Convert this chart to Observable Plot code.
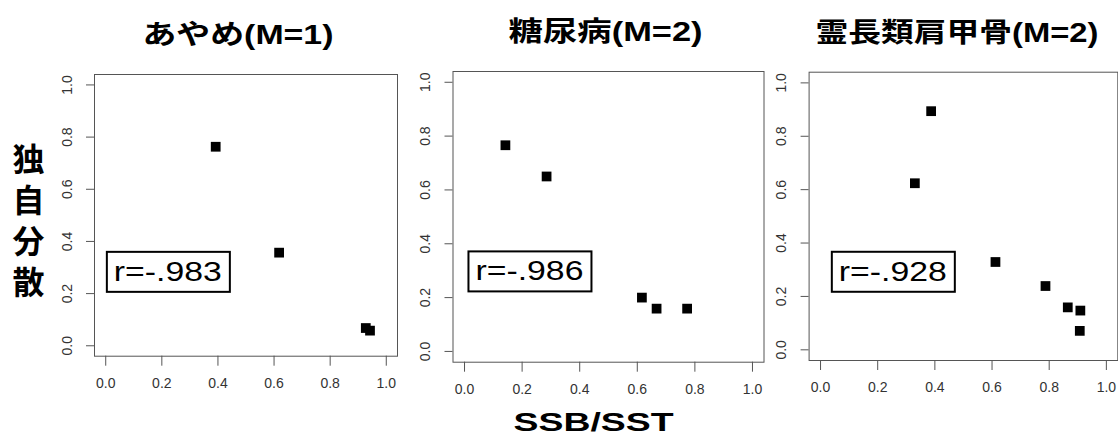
<!DOCTYPE html>
<html><head><meta charset="utf-8">
<script src="https://cdn.jsdelivr.net/npm/d3@7"></script>
<script src="https://cdn.jsdelivr.net/npm/@observablehq/plot@0.6"></script>
<style>
html,body{margin:0;padding:0;background:#fff;}
#root{position:relative;width:1118px;height:439px;overflow:hidden;background:#fff;}
#root svg{position:absolute;top:0;overflow:visible;background:transparent;}
</style></head><body><div id="root"></div>
<script>
// ---- data ----
const titles = ["あやめ(M=1)", "糖尿病(M=2)", "霊長類肩甲骨(M=2)"];
const rLabels = ["r=-.983", "r=-.986", "r=-.928"];
const ssbIris = [0.392, 0.618, 0.927, 0.942];
const varIris = [0.763, 0.357, 0.068, 0.058];
const ssbDiabetes = [0.142, 0.285, 0.616, 0.667, 0.773];
const varDiabetes = [0.766, 0.650, 0.200, 0.159, 0.159];
const ssbScapula = [0.387, 0.330, 0.612, 0.787, 0.865, 0.909, 0.907];
const varScapula = [0.894, 0.624, 0.329, 0.239, 0.159, 0.147, 0.071];
const tickValues = [0, 0.2, 0.4, 0.6, 0.8, 1.0];
const yLabel = "独\n自\n分\n散";
const xLabel = "SSB/SST";

const seriesX = [ssbIris, ssbDiabetes, ssbScapula];
const seriesY = [varIris, varDiabetes, varScapula];

// ---- layout ----
const H = 439;
const FONT = "'Liberation Sans', 'Noto Sans CJK JP', sans-serif";
const layout = [
  {left: 0,   width: 405, fl: 94,    fr: 397,    ft: 74,   fb: 355.7, titleDx: -8,   titleLen: 191, legX: 0.029, legY: 0.282},
  {left: 405, width: 365, fl: 452.5, fr: 763.5,  ft: 71,   fb: 361.7, titleDx: -3,   titleLen: 194, legX: 0.038, legY: 0.296},
  {left: 770, width: 348, fl: 808.6, fr: 1117.3, ft: 71.7, fb: 360,   titleDx: -6.5, titleLen: 283, legX: 0.064, legY: 0.291}
];

const root = document.getElementById("root");
const fmt = d3.format(".1f");

function textsWith(svg, str) {
  return d3.select(svg).selectAll("text").filter(function() { return this.textContent === str; });
}

layout.forEach((L, i) => {
  const pts = seriesX[i].map((x, j) => ({ssb: x, v: seriesY[i][j]}));
  const marks = [
    Plot.frame({stroke: "#555", strokeWidth: 1}),
    Plot.axisX(tickValues, {tickSize: 10, tickPadding: 12, tickFormat: fmt, fontSize: 14, stroke: "#555", fill: "#333", label: null}),
    Plot.axisY(tickValues, {tickSize: 8, tickPadding: 15, tickRotate: -90, tickFormat: fmt, fontSize: 14, stroke: "#555", fill: "#333", label: null}),
    Plot.dot(pts, {x: "ssb", y: "v", symbol: "square", r: 5.5, fill: "black", stroke: null}),
    Plot.text([rLabels[i]], {x: () => L.legX, y: () => L.legY, text: d => d, textAnchor: "start", lineAnchor: "middle", fontSize: 27, fill: "black"}),
    Plot.text([titles[i]], {frameAnchor: "top", text: d => d, dx: L.titleDx, dy: -39, lineAnchor: "middle", fontSize: 27, fontWeight: "bold", fill: "black"})
  ];
  if (i === 0) {
    marks.push(Plot.text([yLabel], {frameAnchor: "left", text: d => d, dx: 28 - L.fl, dy: 4, textAnchor: "middle", lineAnchor: "middle", lineHeight: 1.28, fontSize: 32, fontWeight: "bold", fill: "black"}));
  }
  if (i === 1) {
    marks.push(Plot.text([xLabel], {frameAnchor: "bottom", text: d => d, dx: 593 - (L.fl + L.fr) / 2, dy: 60.3, lineAnchor: "middle", fontSize: 26, fontWeight: "bold", fill: "black"}));
  }
  const svg = Plot.plot({
    width: L.width,
    height: H,
    marginLeft: L.fl - L.left,
    marginRight: L.left + L.width - L.fr,
    marginTop: L.ft,
    marginBottom: H - L.fb,
    x: {domain: [-0.04, 1.04]},
    y: {domain: [-0.04, 1.04]},
    style: {fontFamily: FONT, background: "transparent", overflow: "visible"},
    marks
  });
  svg.style.left = L.left + "px";
  root.appendChild(svg);

  textsWith(svg, titles[i]).attr("textLength", L.titleLen).attr("lengthAdjust", "spacingAndGlyphs");
  textsWith(svg, xLabel).attr("textLength", 160).attr("lengthAdjust", "spacingAndGlyphs");
  textsWith(svg, rLabels[i]).each(function() {
    const t = d3.select(this);
    t.attr("textLength", 108).attr("lengthAdjust", "spacingAndGlyphs");
    const b = this.getBBox();
    const cy = b.y + b.height / 2;
    d3.select(this.parentNode).insert("rect", () => this)
      .attr("transform", t.attr("transform"))
      .attr("x", b.x - 7).attr("y", cy - 20)
      .attr("width", b.width + 15).attr("height", 40)
      .attr("fill", "none").attr("stroke", "black").attr("stroke-width", 2);
  });
});
</script></body></html>
